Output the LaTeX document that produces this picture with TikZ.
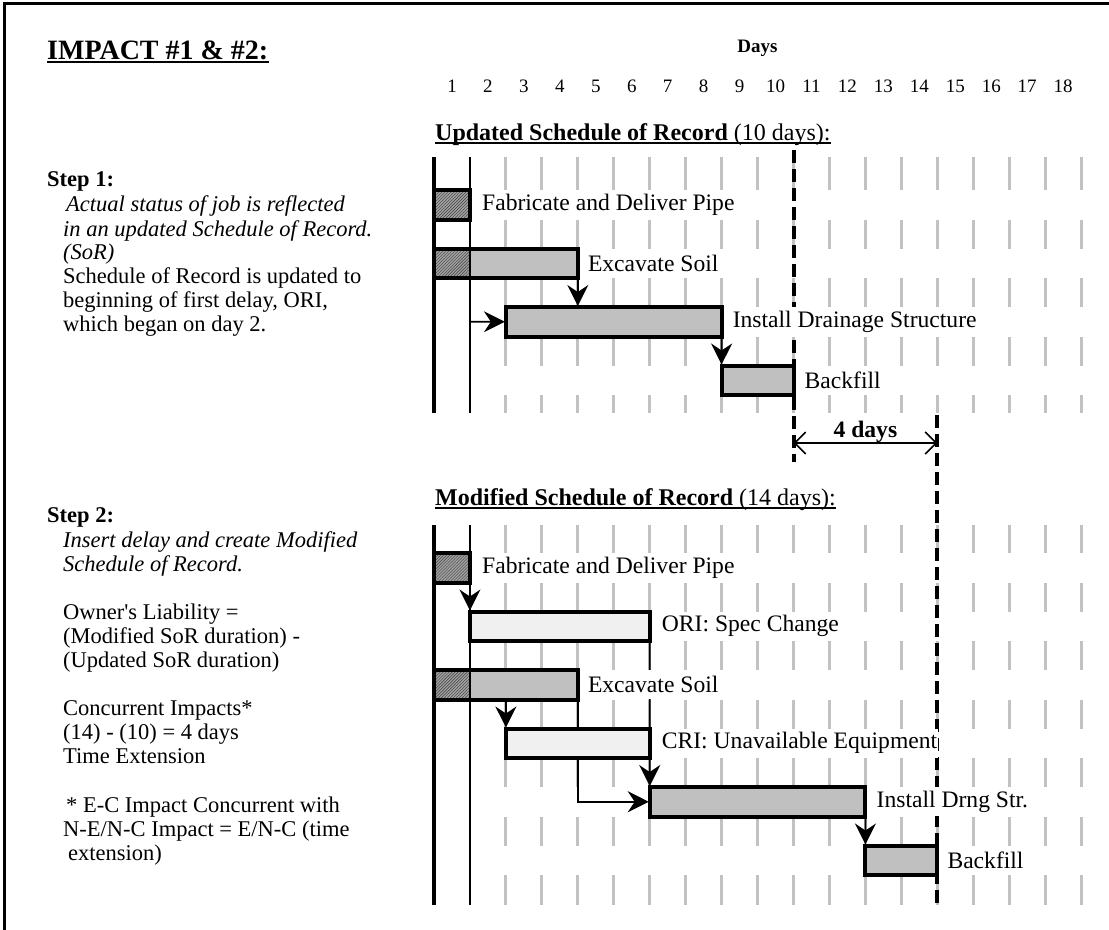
\documentclass[tikz,border=0pt]{standalone}
\usepackage{fontspec}
\setmainfont{Liberation Serif}
\usetikzlibrary{arrows.meta,patterns}
\definecolor{barfill}{HTML}{C0C0C0}
\definecolor{gridline}{HTML}{C2C2C2}
\definecolor{hatchbase}{HTML}{A0A0A0}
\definecolor{delayfill}{HTML}{F0F0F0}
\pgfdeclarelayer{back}
\pgfsetlayers{back,main}
\tikzset{
  gridrule/.style={draw=gridline, line width=3bp},
  ganttbar/.style={draw=black, line width=4bp, fill=barfill, anchor=north west,
    minimum height=29.5bp, inner sep=0pt, outer sep=0pt},
  delaybar/.style={ganttbar, fill=delayfill},
  hatchbar/.style={draw=black, line width=4bp, anchor=north west,
    minimum height=29.5bp, inner sep=0pt, outer sep=0pt,
    preaction={fill=hatchbase}, pattern=north east lines, pattern color=black!75},
  donepart/.style={path picture={
    \fill[preaction={fill=hatchbase}, pattern=north east lines, pattern color=black!75]
      (path picture bounding box.north west) rectangle ++(35.95,29.5);}},
  barlabel/.style={anchor=west, fill=white, inner xsep=1bp, inner ysep=0pt,
    minimum height=29bp, font=\fontsize{23.6bp}{26bp}\selectfont},
  link/.style={line width=1.8bp, shorten >=1bp, -{Stealth[length=21bp,width=21bp,inset=7bp]}},
  dimarrow/.style={line width=1.4bp, {Straight Barb[length=11bp,width=22bp,line width=1.6bp]}-{Straight Barb[length=11bp,width=22bp,line width=1.6bp]}},
  finish/.style={line width=4bp, dash pattern=on 13bp off 6bp},
  lefttxt/.style={anchor=base west, inner sep=0pt, font=\fontsize{22.5bp}{24bp}\selectfont},
  leftit/.style={lefttxt, font=\fontsize{22.5bp}{24bp}\selectfont\itshape},
  leftbf/.style={lefttxt, font=\fontsize{22.5bp}{24bp}\selectfont\bfseries},
  headtxt/.style={anchor=base west, inner sep=0pt, font=\fontsize{24bp}{26bp}\selectfont},
}
\begin{document}
\begin{tikzpicture}[x=1bp,y=-1bp]
\useasboundingbox (0,0) rectangle (1109,930);

% frame (top and left edges)
\draw[line width=3bp] (4,932) -- (4,3) -- (1112,3);

% title and day scale
\node[anchor=base west, inner sep=0pt, font=\bfseries\fontsize{28bp}{32bp}\selectfont] (title) at (47,59) {IMPACT \#1 \& \#2:};
\draw[line width=2bp] ([yshift=-3bp]title.base west) -- ([yshift=-3bp]title.base east);
\node[anchor=base, inner sep=0pt, font=\bfseries\fontsize{19bp}{22bp}\selectfont] (days) at (757.5,52) {Days};
\foreach \n in {1,...,18}
  \node[anchor=base, inner sep=0pt, font=\fontsize{19bp}{22bp}\selectfont] (num\n) at ({452+35.95*(\n-1)},92) {\n};

% headings of the two schedules
\node[headtxt] (uhead) at (435,140) {\textbf{Updated Schedule of Record} (10 days):};
\draw[line width=1.8bp] ([yshift=-3bp]uhead.base west) -- ([yshift=-3bp]uhead.base east);
\node[headtxt] (lhead) at (435,505) {\textbf{Modified Schedule of Record} (14 days):};
\draw[line width=1.8bp] ([yshift=-3bp]lhead.base west) -- ([yshift=-3bp]lhead.base east);

% ---------- updated schedule bars ----------
\node[hatchbar, minimum width=35.95bp] (uFab) at (434,190) {};
\node[ganttbar, donepart, minimum width=143.8bp] (uExc) at (434,248.5) {};
\node[ganttbar, minimum width=215.7bp] (uIns) at (505.9,307) {};
\node[ganttbar, minimum width=71.9bp] (uBck) at (721.6,365.5) {};

% ---------- modified schedule bars ----------
\node[hatchbar, minimum width=35.95bp] (lFab) at (434,553) {};
\node[delaybar, minimum width=179.75bp] (lORI) at (469.95,611.5) {};
\node[ganttbar, donepart, minimum width=143.8bp] (lExc) at (434,670) {};
\node[delaybar, minimum width=143.8bp] (lCRI) at (505.9,728.5) {};
\node[ganttbar, minimum width=215.7bp] (lIns) at (649.75,787) {};
\node[ganttbar, minimum width=71.9bp] (lBck) at (865.4,845.5) {};

% data date rules (start of job and day 2)
\coordinate (uS0) at (434,157);   \coordinate (uS1) at (434,413);
\coordinate (uD0) at (469.95,157); \coordinate (uD1) at (469.95,413);
\coordinate (lS0) at (434,525);   \coordinate (lS1) at (434,905);
\coordinate (lD0) at (469.95,525); \coordinate (lD1) at (469.95,905);
\draw[line width=4bp] (uS0) -- (uS1);
\draw[line width=1.8bp] (uD0) -- (uD1);
\draw[line width=4bp] (lS0) -- (lS1);
\draw[line width=1.8bp] (lD0) -- (lD1);

% bar labels
\node[barlabel] (uFabL) at ([xshift=11bp]uFab.east) {Fabricate and Deliver Pipe};
\node[barlabel] (uExcL) at ([xshift=9bp]uExc.east) {Excavate Soil};
\node[barlabel] (uInsL) at ([xshift=10bp]uIns.east) {Install Drainage Structure};
\node[barlabel] (uBckL) at ([xshift=10bp]uBck.east) {Backfill};
\node[barlabel] (lFabL) at ([xshift=11bp]lFab.east) {Fabricate and Deliver Pipe};
\node[barlabel] (lORIL) at ([xshift=11bp]lORI.east) {ORI: Spec Change};
\node[barlabel] (lExcL) at ([xshift=9bp]lExc.east) {Excavate Soil};
\node[barlabel] (lCRIL) at ([xshift=11bp]lCRI.east) {CRI: Unavailable Equipment};
\node[barlabel] (lInsL) at ([xshift=10bp]lIns.east) {Install Drng Str.};
\node[barlabel] (lBckL) at ([xshift=9bp]lBck.east) {Backfill};

% time extension between the two finish dates
\coordinate (dimL) at (793.5,443);
\coordinate (dimR) at (937.3,443);
\node[anchor=base, inner sep=0pt, font=\bfseries\fontsize{23.6bp}{26bp}\selectfont] (dimtxt) at (865.4,437) {4 days};

\begin{pgfonlayer}{back}
  % day grid, broken by the activity rows
  \foreach \k in {2,...,18} {
    \draw[gridrule] ({434+35.95*\k},157) -- ({434+35.95*\k},413);
    \draw[gridrule] ({434+35.95*\k},525) -- ({434+35.95*\k},905);
  }
  \foreach \t in {190,248.5,307,365.5,553,611.5,670,728.5,787,845.5}
    \fill[white] (436,\t) rectangle (1095,{\t+29.5});
  % finish dates
  \coordinate (uF0) at (793.5,150); \coordinate (uF1) at (793.5,462);
  \coordinate (lF0) at (937.3,415); \coordinate (lF1) at (937.3,905);
  \draw[finish] (uF0) -- (uF1);
  \draw[finish] (lF0) -- (lF1);
  \draw[dimarrow] (dimL) -- (dimR);
  % logic ties
  \coordinate (uFeed) at (469.95,321.75);
  \draw[link] (uExc.south east) -- (uExc.south east |- uIns.north);
  \draw[link] (uFeed) -- (uIns.west);
  \draw[link] (uIns.south east) -- (uBck.north west);
  \draw[link] (lFab.south east) -- (lORI.north west);
  \draw[link] (lExc.south west -| lCRI.north west) -- (lCRI.north west);
  \draw[line width=1.8bp] (lORI.south east) -- (lCRI.north east);
  \draw[link] (lCRI.south east) -- (lIns.north west);
  \draw[link] (lExc.south east) |- (lIns.west);
  \draw[link] (lIns.south east) -- (lBck.north west);
\end{pgfonlayer}

% ---------- explanatory text ----------
\node[leftbf] (s1) at (47,186) {Step 1:};
\node[leftit] (s1a) at (66,211) {Actual status of job is reflected};
\node[leftit] (s1b) at (63,236) {in an updated Schedule of Record.};
\node[leftit] (s1c) at (63,259) {(SoR)};
\node[lefttxt] (s1d) at (63,283) {Schedule of Record is updated to};
\node[lefttxt] (s1e) at (63,307) {beginning of first delay, ORI,};
\node[lefttxt] (s1f) at (63,331) {which began on day 2.};

\node[leftbf] (s2) at (47,522) {Step 2:};
\node[leftit] (s2a) at (63,547) {Insert delay and create Modified};
\node[leftit] (s2b) at (63,571) {Schedule of Record.};
\node[lefttxt] (s2c) at (63,619) {Owner\textquotesingle s Liability =};
\node[lefttxt] (s2d) at (63,643) {(Modified SoR duration) -};
\node[lefttxt] (s2e) at (63,667) {(Updated SoR duration)};
\node[lefttxt] (s2f) at (63,715) {Concurrent Impacts*};
\node[lefttxt] (s2g) at (63,739) {(14) - (10) = 4 days};
\node[lefttxt] (s2h) at (63,763) {Time Extension};
\node[lefttxt] (s2i) at (66,812) {* E-C Impact Concurrent with};
\node[lefttxt] (s2j) at (63,836) {N-E/N-C Impact = E/N-C (time};
\node[lefttxt] (s2k) at (68,860) {extension)};
\end{tikzpicture}
\end{document}
